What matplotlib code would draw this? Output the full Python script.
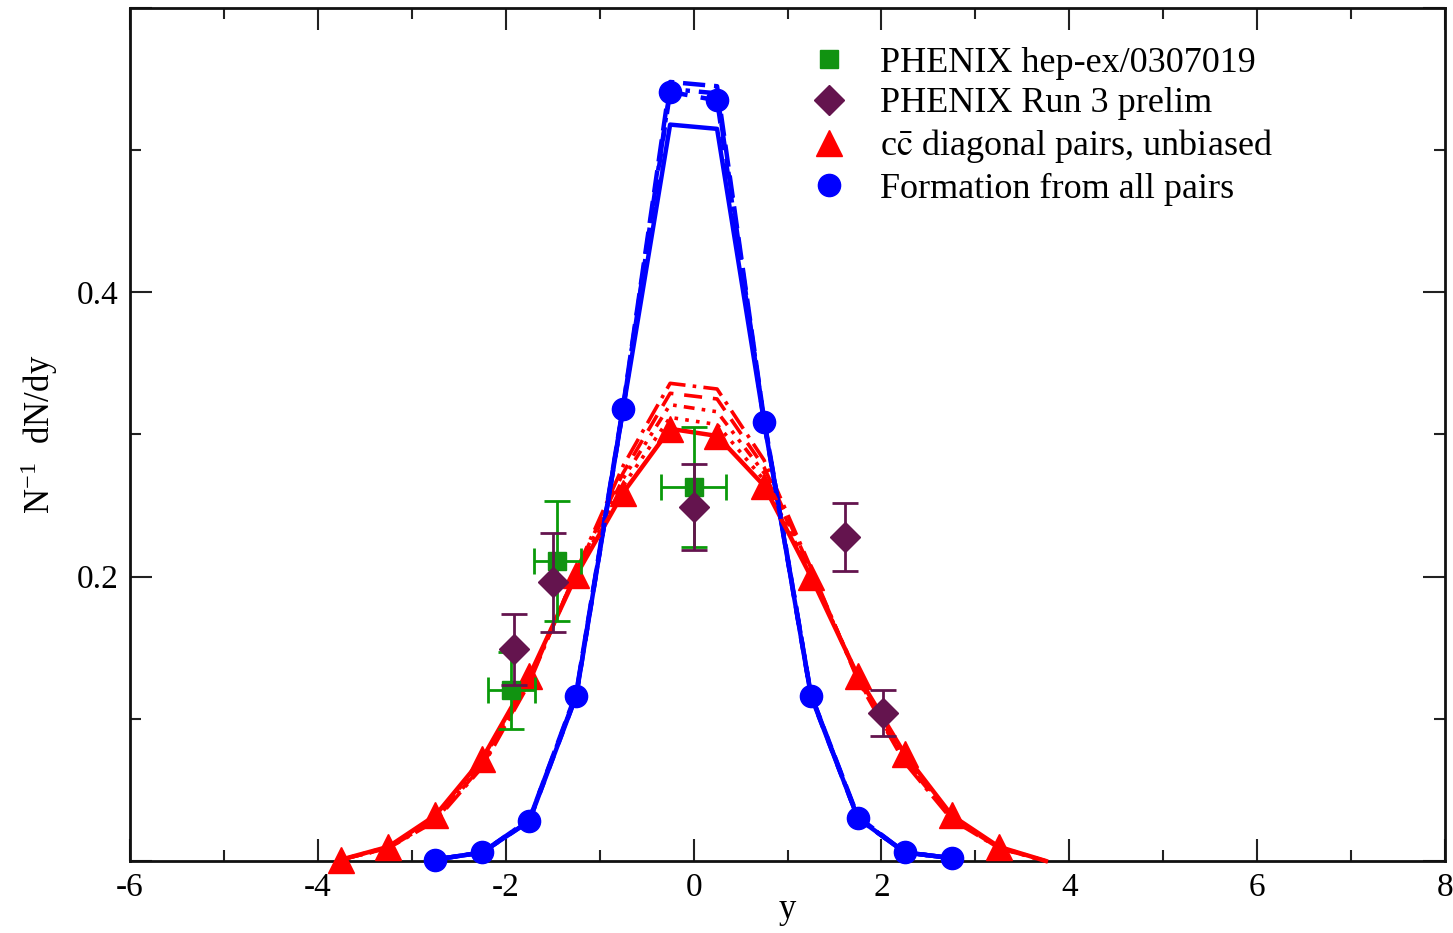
import matplotlib
matplotlib.use("Agg")
import matplotlib.pyplot as plt
from matplotlib.lines import Line2D
from matplotlib.ticker import MultipleLocator

plt.rcParams['font.family'] = ['Liberation Serif', 'DejaVu Serif']
plt.rcParams['mathtext.fontset'] = 'stix'
plt.rcParams['axes.unicode_minus'] = False

# ---------------- data ----------------
# blue: formation from all pairs (marker series + variants)
y_blue = [-2.75, -2.25, -1.75, -1.25, -0.75, -0.25, 0.25, 0.75, 1.25, 1.75, 2.25, 2.75]
blue_markers = [0.001, 0.006, 0.028, 0.116, 0.318, 0.541, 0.535, 0.309, 0.116, 0.030, 0.006, 0.002]
blue_solid = [0.001, 0.006, 0.028, 0.116, 0.318, 0.518, 0.515, 0.309, 0.116, 0.030, 0.006, 0.002]
blue_dash = [0.001, 0.006, 0.029, 0.118, 0.320, 0.548, 0.545, 0.311, 0.117, 0.031, 0.006, 0.002]
blue_dashdot = [0.001, 0.006, 0.029, 0.117, 0.319, 0.543, 0.540, 0.310, 0.117, 0.030, 0.006, 0.002]

# red: c cbar diagonal pairs, unbiased (marker series + variants)
y_red = [-3.75, -3.25, -2.75, -2.25, -1.75, -1.25, -0.75, -0.25, 0.25, 0.75, 1.25, 1.75, 2.25, 2.75, 3.25, 3.75]
red_markers = [0.001, 0.010, 0.032, 0.072, 0.130, 0.201, 0.259, 0.304, 0.299, 0.264, 0.200, 0.130, 0.075, 0.032, 0.010, 0.000]
red_var1 = [0.001, 0.009, 0.028, 0.066, 0.125, 0.204, 0.278, 0.336, 0.332, 0.282, 0.206, 0.127, 0.069, 0.029, 0.009, 0.000]
red_var2 = [0.001, 0.009, 0.029, 0.067, 0.126, 0.204, 0.273, 0.329, 0.325, 0.277, 0.205, 0.128, 0.070, 0.030, 0.009, 0.000]
red_var3 = [0.001, 0.009, 0.030, 0.068, 0.127, 0.203, 0.269, 0.321, 0.316, 0.273, 0.204, 0.129, 0.071, 0.031, 0.009, 0.000]
red_var4 = [0.001, 0.010, 0.031, 0.070, 0.129, 0.202, 0.264, 0.312, 0.307, 0.268, 0.202, 0.130, 0.073, 0.031, 0.010, 0.000]

# PHENIX hep-ex/0307019 (green squares)
g_x = [-1.94, -1.45, 0.0]
g_y = [0.120, 0.211, 0.263]
g_xerr = [0.25, 0.25, 0.35]
g_yerr = [0.027, 0.042, 0.042]

# PHENIX Run 3 prelim (purple diamonds)
p_x = [-1.91, -1.50, 0.0, 1.61, 2.02]
p_y = [0.149, 0.196, 0.249, 0.228, 0.104]
p_yerr = [0.025, 0.035, 0.030, 0.024, 0.016]

labels = ["PHENIX hep-ex/0307019", "PHENIX Run 3 prelim",
          r"c$\bar{\mathrm{c}}$ diagonal pairs, unbiased", "Formation from all pairs"]

xticks = [-6, -4, -2, 0, 2, 4, 6, 8]
yticks = [0.0, 0.2, 0.4, 0.6]
ytick_labels = ["", "0.2", "0.4", ""]

GREEN = "#119311"
GREEN_ERR = "#0a9a0a"
PURPLE = "#64144e"
BLUE = "#0000ff"
RED = "#ff0000"

# ---------------- figure ----------------
fig = plt.figure(figsize=(14.53, 9.33), dpi=100)
ax = fig.add_axes([0.0895, 0.0772, 0.905, 0.9142])

lw = 3.2
# red variants
ax.plot(y_red, red_var1, color=RED, lw=2.6, ls=(0, (6, 2, 1, 2)))
ax.plot(y_red, red_var2, color=RED, lw=2.6, ls=(0, (5, 3)))
ax.plot(y_red, red_var3, color=RED, lw=2.6, ls=(0, (3, 2, 1, 2, 1, 2)))
ax.plot(y_red, red_var4, color=RED, lw=2.6, ls=(0, (1, 2)))
ax.plot(y_red, red_markers, color=RED, lw=lw, marker='^', ms=19,
        markevery=slice(0, len(y_red) - 1), clip_on=False, zorder=4)

# blue variants
ax.plot(y_blue, blue_dash, color=BLUE, lw=lw, ls=(0, (5, 2)))
ax.plot(y_blue, blue_dashdot, color=BLUE, lw=lw, ls=(0, (6, 2, 1, 2)))
ax.plot(y_blue, blue_solid, color=BLUE, lw=lw)
ax.plot(y_blue, blue_markers, color=BLUE, lw=lw, ls=(0, (3, 3)), marker='o', ms=16,
        clip_on=False, zorder=5)

# data
ax.errorbar(g_x, g_y, xerr=g_xerr, yerr=g_yerr, fmt='s', color=GREEN, ecolor=GREEN_ERR,
            ms=13, elinewidth=2, capsize=9.5, capthick=2, zorder=6)
ax.errorbar(p_x, p_y, yerr=p_yerr, fmt='D', color=PURPLE, ecolor=PURPLE,
            ms=15, elinewidth=2, capsize=9.5, capthick=2, zorder=7)

ax.set_xlim(-6, 8)
ax.set_ylim(0, 0.6)
ax.set_xticks(xticks)
ax.set_xticklabels([str(v) for v in xticks])
ax.xaxis.set_minor_locator(MultipleLocator(1))
ax.set_yticks(yticks)
ax.set_yticklabels(ytick_labels)
ax.yaxis.set_minor_locator(MultipleLocator(0.1))
ax.tick_params(which='both', direction='in', top=True, right=True, width=1.5, color='#222222')
ax.tick_params(which='major', length=16, labelsize=24, pad=8)
ax.tick_params(which='minor', length=8)
for s in ax.spines.values():
    s.set_linewidth(2)
    s.set_color('#111111')

ax.set_xlabel("y", fontsize=25, labelpad=-7)
ax.set_ylabel(r"N$^{\mathregular{-1}}$  dN/dy", fontsize=25, labelpad=12)

handles = [
    Line2D([], [], ls='none', marker='s', ms=13, color=GREEN),
    Line2D([], [], ls='none', marker='D', ms=15, color=PURPLE),
    Line2D([], [], ls='none', marker='^', ms=19, color=RED),
    Line2D([], [], ls='none', marker='o', ms=16, color=BLUE),
]
ax.legend(handles, labels, loc='upper left', bbox_to_anchor=(0.5207, 0.955),
          frameon=False, fontsize=26, handlelength=0.77, handletextpad=1.05,
          labelspacing=0.2, borderpad=0, borderaxespad=0)

fig.savefig("out.png", dpi=100)
